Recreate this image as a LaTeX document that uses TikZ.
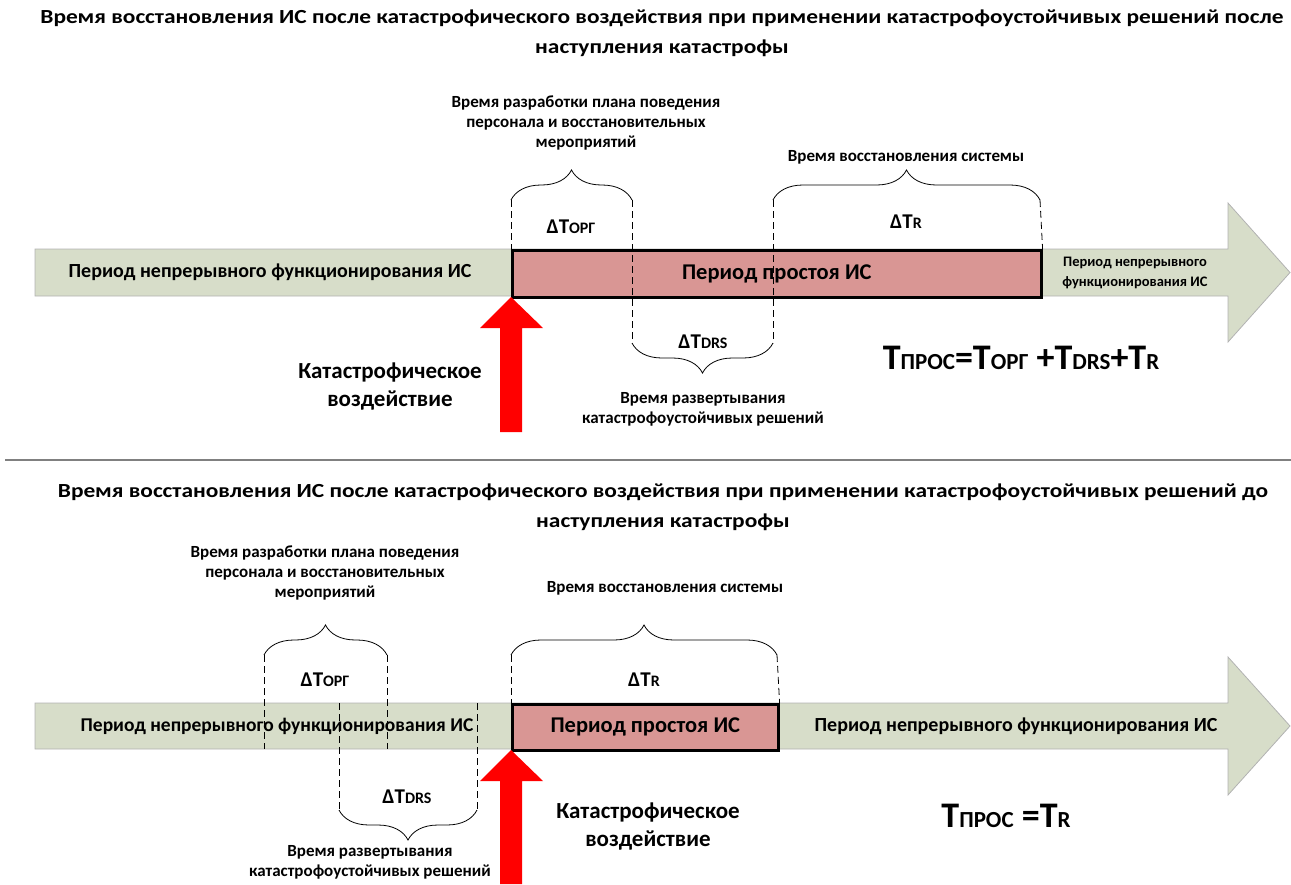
\documentclass[tikz,border=0pt]{standalone}
\usepackage{fontspec}
\setmainfont{Carlito}
\usetikzlibrary{positioning,decorations.pathreplacing}

\definecolor{bandgreen}{RGB}{215,221,201}
\definecolor{downred}{RGB}{217,150,148}
\definecolor{hitred}{RGB}{255,0,0}

% subscripts set as smaller capitals
\newcommand{\lowcap}[1]{{\fontsize{23}{26}\selectfont #1}}
\newcommand{\dlow}[1]{{\fontsize{16}{17}\selectfont #1}}

\tikzset{
  ttl/.style={font=\bfseries\fontsize{20}{30}\selectfont, align=center, xscale=1.17},
  lbl/.style={font=\bfseries\fontsize{17}{20}\selectfont, align=center},
  dlt/.style={font=\bfseries\fontsize{21}{24}\selectfont},
  big/.style={font=\bfseries\fontsize{23}{28}\selectfont, align=center},
  bandtxt/.style={font=\bfseries\fontsize{20}{20}\selectfont, align=center},
  formula/.style={font=\bfseries\fontsize{36}{40}\selectfont},
  band/.style={fill=bandgreen, draw=gray!60, line width=0.8pt},
  downbox/.style={fill=downred, draw=black, line width=2.6pt, inner sep=0pt,
    anchor=north west, font=\bfseries\fontsize{22.5}{24}\selectfont},
  guide/.style={dash pattern=on 7pt off 4pt, line width=0.8pt},
  brc/.style={decorate, decoration={brace, amplitude=30pt}, line width=0.8pt},
  hit/.style={fill=hitred, draw=none},
}

\begin{document}
\begin{tikzpicture}[x=1pt, y=1pt]
  \useasboundingbox (0,0) rectangle (1291,-884);

  % ---------- after the disaster ----------
  \node[ttl] (title1) at (662,-33) {Время восстановления ИС после катастрофического воздействия при применении катастрофоустойчивых решений после\\наступления катастрофы};

  \draw[band] (35,-249) -- (1228,-249) -- (1228,-203) -- (1290,-272.5)
    -- (1228,-342) -- (1228,-296) -- (35,-296) -- cycle;
  \node[downbox, minimum width=529pt, minimum height=47pt] (down1) at (511,-249) {Период простоя ИС};
  \node[bandtxt] (work1) at (270,-272.5) {Период непрерывного функционирования ИС};
  \node[lbl, font=\bfseries\fontsize{14.5}{20}\selectfont] (after1) at (1135,-273) {Период непрерывного\\функционирования ИС};

  \coordinate (orgL1) at (511,-200);
  \coordinate (orgR1) at (632,-200);
  \coordinate (drsL1) at (632,-343);
  \coordinate (drsR1) at (773,-343);
  \coordinate (recL1) at (773,-200);
  \coordinate (recR1) at (1040,-200);

  \draw[brc] (orgL1) -- (orgR1);
  \draw[brc] (drsR1) -- (drsL1);
  \draw[brc] (recL1) -- (recR1);
  \draw[guide] (orgL1) -- (down1.north west);
  \draw[guide] (orgR1) -- (drsL1);
  \draw[guide] (recL1) -- (drsR1);
  \draw[guide] (recR1) -- (down1.north east);

  \node[lbl] (orgtxt1) at (586,-123) {Время разработки плана поведения\\персонала и восстановительных\\мероприятий};
  \node[dlt] (dorg1) at (571,-227) {ΔT\dlow{ОРГ}};
  \node[lbl] (rectxt1) at (906,-157) {Время восстановления системы};
  \node[dlt] (drec1) at (906,-222) {ΔT\dlow{R}};
  \node[dlt] (ddrs1) at (703,-342) {ΔT\dlow{DRS}};
  \node[lbl] (drstxt1) at (703,-409) {Время развертывания\\катастрофоустойчивых решений};

  \draw[hit] (511,-297) -- (543,-328) -- (522,-328) -- (522,-432)
    -- (500,-432) -- (500,-328) -- (480,-328) -- cycle;
  \node[big] (hittxt1) at (390,-386) {Катастрофическое\\воздействие};

  \node[formula] (sum1) at (1021,-358) {T\lowcap{ПРОС}=T\lowcap{ОРГ} +T\lowcap{DRS}+T\lowcap{R}};

  \draw[gray, line width=2pt] (5,-460) -- (1291,-460);

  % ---------- before the disaster ----------
  \node[ttl] (title2) at (663,-507) {Время восстановления ИС после катастрофического воздействия при применении катастрофоустойчивых решений до\\наступления катастрофы};

  \draw[band] (35,-703) -- (1228,-703) -- (1228,-657) -- (1290,-726)
    -- (1228,-795) -- (1228,-749) -- (35,-749) -- cycle;
  \node[downbox, minimum width=266pt, minimum height=46pt] (down2) at (511,-703) {Период простоя ИС};
  \node[bandtxt, font=\bfseries\fontsize{19.5}{20}\selectfont] (work2) at (277,-726) {Период непрерывного функционирования ИС};
  \node[bandtxt] (after2) at (1016,-726) {Период непрерывного функционирования ИС};

  \coordinate (orgL2) at (264,-655);
  \coordinate (orgR2) at (387,-655);
  \coordinate (orgB2) at (264,-749);
  \coordinate (orgC2) at (387,-749);
  \coordinate (drsL2) at (339,-810);
  \coordinate (drsR2) at (477,-810);
  \coordinate (drsT2) at (339,-703);
  \coordinate (drsU2) at (477,-703);
  \coordinate (recL2) at (511,-655);
  \coordinate (recR2) at (777,-655);

  \draw[brc] (orgL2) -- (orgR2);
  \draw[brc] (drsR2) -- (drsL2);
  \draw[brc] (recL2) -- (recR2);
  \draw[guide] (orgL2) -- (orgB2);
  \draw[guide] (orgR2) -- (orgC2);
  \draw[guide] (drsT2) -- (drsL2);
  \draw[guide] (drsU2) -- (drsR2);
  \draw[guide] (recL2) -- (down2.north west);
  \draw[guide] (recR2) -- (down2.north east);

  \node[lbl] (orgtxt2) at (325,-573) {Время разработки плана поведения\\персонала и восстановительных\\мероприятий};
  \node[dlt] (dorg2) at (325,-680) {ΔT\dlow{ОРГ}};
  \node[lbl] (rectxt2) at (665,-588) {Время восстановления системы};
  \node[dlt] (drec2) at (644,-680) {ΔT\dlow{R}};
  \node[dlt] (ddrs2) at (407,-797) {ΔT\dlow{DRS}};
  \node[lbl] (drstxt2) at (370,-862) {Время развертывания\\катастрофоустойчивых решений};

  \draw[hit] (511,-750) -- (543,-781) -- (522,-781) -- (522,-884)
    -- (500,-884) -- (500,-781) -- (480,-781) -- cycle;
  \node[big] (hittxt2) at (648,-826) {Катастрофическое\\воздействие};

  \node[formula] (sum2) at (1006,-816) {T\lowcap{ПРОС} =T\lowcap{R}};
\end{tikzpicture}
\end{document}
